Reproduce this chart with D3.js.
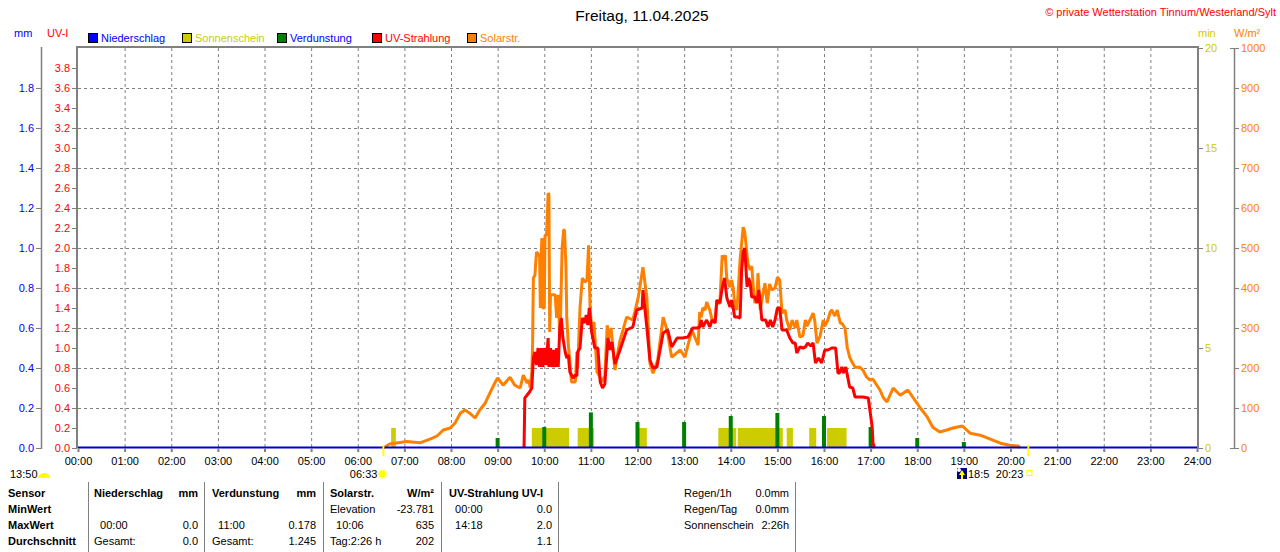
<!DOCTYPE html>
<html>
<head>
<meta charset="utf-8">
<script src="https://cdn.jsdelivr.net/npm/d3@7"></script>
<style>
  body { margin: 0; background: #fff; }
  svg { display: block; font-family: "Liberation Sans", Arial, sans-serif; font-size: 11px; }
  .bold { font-weight: bold; }
</style>
</head>
<body>
<svg id="chart" width="1280" height="552"></svg>
<script>
'use strict';

// ---- data ----
const solarTime = ["06:33","06:41","07:03","07:20","07:33","07:42","07:50","07:59","08:05","08:12","08:18","08:24","08:31","08:37","08:44","08:50","08:57","09:00","09:07","09:16","09:22","09:29","09:33","09:38",
  "09:40","09:42","09:44","09:45","09:46","09:48","09:50","09:52","09:54","09:55","09:56","09:57","09:58","10:00","10:01","10:03","10:05","10:06","10:07","10:08","10:11","10:14","10:16","10:18","10:20","10:21","10:23","10:25","10:26","10:28","10:29","10:31","10:33","10:35","10:38","10:40","10:42","10:43",
  "10:46","10:49","10:52","10:55","10:57","10:59","11:01","11:04","11:06","11:08","11:11","11:14","11:18","11:21","11:23","11:26","11:31","11:37","11:46","11:54","12:01","12:07","12:12","12:16","12:20","12:26","12:33","12:38","12:44","12:55","13:01","13:10","13:18",
  "13:20","13:22","13:24","13:27","13:29","13:33","13:36","13:40","13:42","13:46","13:49","13:51","13:53","13:55","13:56","13:59","14:01","14:03","14:05","14:08","14:12","14:16","14:18","14:20","14:22","14:25","14:27","14:29","14:31","14:34","14:35","14:38","14:40","14:44","14:47","14:50","14:53","14:57",
  "15:00","15:03","15:06","15:10","15:12","15:16","15:19","15:23","15:25","15:29","15:33","15:36","15:38","15:42","15:46","15:48","15:51","15:55","15:59","16:01","16:05","16:08","16:10","16:14","16:17","16:21","16:23","16:27","16:30","16:33","16:36","16:40","16:46","16:50","16:55","16:59",
  "17:03","17:12","17:16","17:21","17:29","17:38","17:48","17:55","18:04","18:13","18:20","18:29","18:38","18:46","18:58","19:08","19:21","19:34","19:47","19:59","20:10","20:12"];
const solarValue = [0,10,16,13,22,30,45,50,62,87,95,87,75,95,112,137,165,175,157,177,157,150,182,162,
  170,150,190,260,425,432,490,485,480,350,482,525,350,350,532,532,637,635,290,382,383,383,325,383,275,332,500,545,545,450,325,258,215,165,165,165,240,200,
  350,425,415,420,507,350,300,315,250,190,180,165,180,307,275,300,195,265,327,320,377,452,377,212,187,220,327,295,227,245,227,295,257,
  340,327,350,345,365,345,320,320,362,362,482,470,482,420,420,402,420,402,362,345,470,552,540,502,462,445,455,402,362,380,437,345,370,412,362,410,395,400,
  427,420,337,345,320,295,320,300,320,277,282,320,305,320,337,320,262,280,320,305,320,340,345,330,345,312,312,300,250,227,215,202,202,195,177,170,
  172,145,127,115,150,132,145,125,100,77,52,40,45,50,55,37,32,22,12,7,5,0];

const uvTime = ["09:34","09:35","09:41","09:44","09:46","09:48","09:50","09:52","09:54","09:56","09:58","10:00","10:02","10:04","10:05","10:06","10:08","10:10","10:12","10:14","10:16","10:18","10:20","10:22","10:24","10:27","10:29","10:31","10:33","10:37","10:40","10:42",
  "10:43","10:46","10:49","10:52","10:54","10:56","10:58","11:01","11:05","11:09","11:12","11:15","11:18","11:22","11:25","11:27","11:31","11:37","11:46","11:54","11:59","12:06","12:07","12:12","12:16","12:20","12:25","12:29","12:33","12:39","12:44","12:51","12:58","13:05","13:11","13:17",
  "13:20","13:22","13:24","13:29","13:33","13:36","13:40","13:42","13:46","13:49","13:52","13:55","13:59","14:01","14:03","14:05","14:09","14:12","14:14","14:16","14:18","14:21","14:23","14:25","14:27","14:31","14:34","14:36","14:38","14:40","14:45","14:48","14:51","14:54","14:57",
  "15:00","15:03","15:06","15:12","15:16","15:20","15:23","15:25","15:29","15:33","15:36","15:39","15:43","15:46","15:49","15:53","15:57","16:01","16:05","16:10","16:15","16:18","16:20","16:23","16:25","16:28","16:33","16:37","16:40","16:50","16:57","17:02","17:03","17:05"];
const uvValue = [0,0.5,0.56,0.6,0.9,0.96,0.83,1.0,0.81,1.0,0.81,1.0,0.83,1.0,1.1,0.81,1.0,0.81,0.98,0.81,1.0,0.81,1.2,1.3,1.1,0.96,0.9,0.93,0.76,0.7,0.73,0.72,
  0.96,1.0,1.3,1.25,1.33,1.23,1.4,1.16,1.0,1.0,0.66,0.6,0.64,1.1,0.98,1.06,0.84,0.97,1.18,1.21,1.38,1.4,1.58,1.21,0.88,0.8,0.81,0.98,1.15,1.18,1.01,1.1,1.1,1.11,1.2,1.2,
  1.21,1.28,1.21,1.28,1.21,1.28,1.25,1.48,1.45,1.6,1.7,1.5,1.41,1.48,1.41,1.31,1.31,1.3,1.78,1.96,2.0,1.61,1.7,1.65,1.51,1.51,1.45,1.58,1.45,1.28,1.28,1.21,1.28,1.21,1.28,
  1.4,1.4,1.18,1.18,1.1,1.05,1.05,0.95,1.01,1.0,1.01,1.05,1.02,1.05,0.85,0.9,0.85,0.98,0.98,1.0,1.0,0.75,0.75,0.81,0.75,0.81,0.61,0.6,0.51,0.51,0.5,0.21,0.05,0];

const evapHour = ["09:00","10:00","11:00","12:00","13:00","14:00","15:00","16:00","17:00","18:00","19:00"];
const evapValue = [0.05,0.105,0.178,0.13,0.13,0.16,0.175,0.16,0.105,0.05,0.03];

const sunStart = ["06:43","09:44","10:43","12:02","13:44","14:09","15:12","15:41","16:04"];
const sunEnd   = ["06:49","10:32","11:04","12:12","14:07","15:07","15:20","15:50","16:29"];
const sunMinutes = [1,1,1,1,1,1,1,1,1];

const hourTicks = d3.range(0, 25);
const uvTicks = d3.range(0, 3.81, 0.2);
const mmTicks = d3.range(0, 1.81, 0.2);
const minTicks = [0, 5, 10, 15, 20];
const wTicks = d3.range(0, 1001, 100);
const gridUv = d3.range(0.4, 3.61, 0.4);

const legendNames = ["Niederschlag", "Sonnenschein", "Verdunstung", "UV-Strahlung", "Solarstr."];
const legendColors = ["#0000ff", "#cccc00", "#008000", "#ff0000", "#ff8000"];
const legendTextColors = ["#0000ff", "#cccc00", "#0000ff", "#ff0000", "#ff8000"];

const sunrise = "06:33", sunset = "20:23", dayLength = "13:50", moonText = "18:5";

const rowLabels = ["Sensor", "MinWert", "MaxWert", "Durchschnitt"];
const tableCols = [
  { x: 94, r: 198, head: ["Niederschlag", "mm"], rows: [["", ""], ["  00:00", "0.0"], ["Gesamt:", "0.0"]] },
  { x: 212, r: 316, head: ["Verdunstung", "mm"], rows: [["", ""], ["  11:00", "0.178"], ["Gesamt:", "1.245"]] },
  { x: 330, r: 434, head: ["Solarstr.", "W/m²"], rows: [["Elevation", "-23.781"], ["  10:06", "635"], ["Tag:2:26 h", "202"]] },
  { x: 449, r: 552, head: ["UV-Strahlung UV-I", ""], rows: [["  00:00", "0.0"], ["  14:18", "2.0"], ["", "1.1"]] }
];
const separators = [88, 204, 323, 441, 558, 795];
const extraLabels = ["Regen/1h", "Regen/Tag", "Sonnenschein"];
const extraValues = ["0.0mm", "0.0mm", "2:26h"];

// ---- helpers ----
const toMin = s => { const p = s.split(":"); return +p[0] * 60 + +p[1]; };
const fmtHour = h => (h < 10 ? "0" : "") + h + ":00";

const svg = d3.select("#chart");
const pLeft = 78, pRight = 1197, pTop = 48, pBottom = 448;

const x = d3.scaleLinear().domain([0, 1440]).range([pLeft, pRight]);
const yUv = d3.scaleLinear().domain([0, 4]).range([pBottom, pTop]);
const yMm = d3.scaleLinear().domain([0, 2]).range([pBottom, pTop]);
const yMin = d3.scaleLinear().domain([0, 20]).range([pBottom, pTop]);
const yW = d3.scaleLinear().domain([0, 1000]).range([pBottom, pTop]);

// grid
const grid = svg.append("g").attr("stroke", "#808080").attr("stroke-dasharray", "3,3").attr("stroke-width", 1);
grid.selectAll(".v").data(hourTicks.slice(1, 24)).enter().append("line")
  .attr("x1", d => x(d * 60) + 0.5).attr("x2", d => x(d * 60) + 0.5)
  .attr("y1", pTop).attr("y2", pBottom);
grid.selectAll(".h").data(gridUv).enter().append("line")
  .attr("x1", pLeft).attr("x2", pRight)
  .attr("y1", d => Math.round(yUv(d)) + 0.5).attr("y2", d => Math.round(yUv(d)) + 0.5);

// sunshine bars
svg.append("g").selectAll("rect").data(sunStart).enter().append("rect")
  .attr("x", (d, i) => x(toMin(d)))
  .attr("width", (d, i) => x(toMin(sunEnd[i])) - x(toMin(d)))
  .attr("y", (d, i) => yMin(sunMinutes[i]))
  .attr("height", (d, i) => pBottom - yMin(sunMinutes[i]))
  .attr("fill", "#cccc00");

// evaporation bars
svg.append("g").selectAll("rect").data(evapHour).enter().append("rect")
  .attr("x", d => x(toMin(d)) - 2)
  .attr("width", 4)
  .attr("y", (d, i) => yMm(evapValue[i]))
  .attr("height", (d, i) => pBottom - yMm(evapValue[i]))
  .attr("fill", "#008000");

// solar line
const solarData = solarTime.map((t, i) => ({ t: toMin(t), v: solarValue[i] }));
svg.append("path").datum(solarData)
  .attr("fill", "none").attr("stroke", "#ff8000").attr("stroke-width", 3).attr("stroke-linejoin", "bevel")
  .attr("d", d3.line().x(d => x(d.t)).y(d => yW(d.v)));

// UV line
const uvData = uvTime.map((t, i) => ({ t: toMin(t), v: uvValue[i] }));
svg.append("path").datum(uvData)
  .attr("fill", "none").attr("stroke", "#ff0000").attr("stroke-width", 3).attr("stroke-linejoin", "bevel")
  .attr("d", d3.line().x(d => x(d.t)).y(d => yUv(d.v)));

// frame
svg.append("path")
  .attr("d", `M${pLeft - 1},${pBottom}V${pTop - 1}H${pRight + 1}V${pBottom + 1}`)
  .attr("fill", "none").attr("stroke", "#808080").attr("stroke-width", 2);

// precipitation line (zero)
svg.append("line").attr("x1", pLeft).attr("x2", pRight)
  .attr("y1", yMm(0) - 0.5).attr("y2", yMm(0) - 0.5)
  .attr("stroke", "#0000cc").attr("stroke-width", 2);

// x axis
const xAxis = svg.append("g").attr("transform", `translate(0,${pBottom})`)
  .call(d3.axisBottom(x).tickValues(hourTicks.map(h => h * 60)).tickFormat(d => fmtHour(d / 60)).tickSize(4).tickSizeOuter(0).tickPadding(5));
xAxis.select(".domain").remove();
xAxis.selectAll("line").attr("stroke", "#808080").attr("stroke-width", 2);
xAxis.selectAll("text").attr("fill", "#000").style("font-size", "11px").style("font-family", "Liberation Sans, Arial");

function styleAxis(g, color) {
  g.select(".domain").remove();
  g.selectAll("line").attr("stroke", "#808080");
  g.selectAll("text").attr("fill", color).style("font-size", "11px").style("font-family", "Liberation Sans, Arial");
}

// UV axis (left of plot)
svg.append("g").attr("transform", `translate(${pLeft - 1},0)`)
  .call(d3.axisLeft(yUv).tickValues(uvTicks).tickFormat(d3.format(".1f")).tickSize(5).tickPadding(2))
  .call(g => styleAxis(g, "#ff0000"));

// mm axis
svg.append("line").attr("x1", 41.5).attr("x2", 41.5).attr("y1", pTop - 1).attr("y2", pBottom + 1).attr("stroke", "#808080").attr("stroke-width", 1.5);
svg.append("g").attr("transform", "translate(41,0)")
  .call(d3.axisLeft(yMm).tickValues(mmTicks).tickFormat(d3.format(".1f")).tickSize(5).tickPadding(2))
  .call(g => styleAxis(g, "#0000ff"));

// min axis (right of plot)
svg.append("g").attr("transform", `translate(${pRight + 1},0)`)
  .call(d3.axisRight(yMin).tickValues(minTicks).tickSize(5).tickPadding(2))
  .call(g => styleAxis(g, "#cccc00"));

// W/m2 axis
const wx = 1234;
svg.append("line").attr("x1", wx + 0.5).attr("x2", wx + 0.5).attr("y1", pTop).attr("y2", pBottom).attr("stroke", "#808080").attr("stroke-width", 1.5);
svg.append("g").attr("transform", `translate(${wx},0)`)
  .call(d3.axisRight(yW).tickValues(wTicks).tickFormat(d3.format("d")).tickSize(5).tickPadding(2))
  .call(g => styleAxis(g, "#ff8000"));
svg.selectAll(".wend").data([0, 1000]).enter().append("line")
  .attr("x1", wx - 4).attr("x2", wx).attr("y1", d => yW(d) + 0.5).attr("y2", d => yW(d) + 0.5)
  .attr("stroke", "#808080");

// titles
svg.append("text").attr("x", 642).attr("y", 21).attr("text-anchor", "middle")
  .style("font-size", "15.5px").attr("fill", "#000").text("Freitag, 11.04.2025");
svg.append("text").attr("x", 1276).attr("y", 16).attr("text-anchor", "end")
  .attr("fill", "#ff0000").style("font-size", "11px")
  .text("© private Wetterstation Tinnum/Westerland/Sylt");

// unit labels
svg.append("text").attr("x", 14).attr("y", 37).attr("fill", "#0000ff").text("mm");
svg.append("text").attr("x", 47).attr("y", 37).attr("fill", "#ff0000").text("UV-I");
svg.append("text").attr("x", 1198).attr("y", 37).attr("fill", "#cccc00").text("min");
svg.append("text").attr("x", 1234).attr("y", 37).attr("fill", "#ff8000").text("W/m²");

// legend
const legendX = [88, 182, 277, 372, 467];
const lg = svg.append("g").selectAll("g").data(legendNames).enter().append("g")
  .attr("transform", (d, i) => `translate(${legendX[i]},33)`);
lg.append("rect").attr("x", 0.5).attr("y", 0.5).attr("width", 9).attr("height", 9)
  .attr("fill", (d, i) => legendColors[i]).attr("stroke", "#000");
lg.append("text").attr("x", 13).attr("y", 9).attr("fill", (d, i) => legendTextColors[i]).text(d => d);

// sunrise / sunset markers
svg.selectAll(".sunmark").data([sunrise, sunset]).enter().append("line")
  .attr("x1", d => x(toMin(d))).attr("x2", d => x(toMin(d)))
  .attr("y1", pBottom - 3).attr("y2", pBottom + 8)
  .attr("stroke", "#ffff00").attr("stroke-width", 2);

// day length + sunrise text
svg.append("text").attr("x", 10).attr("y", 478).text(dayLength);
svg.append("path").attr("d", "M38,478 a6,5 0 0 1 12,0 Z").attr("fill", "#ffff00");
svg.append("text").attr("x", x(toMin(sunrise)) - 6).attr("y", 478).attr("text-anchor", "end").text(sunrise);
svg.append("circle").attr("cx", x(toMin(sunrise)) - 1).attr("cy", 474).attr("r", 5).attr("fill", "#ffffaa");
svg.append("circle").attr("cx", x(toMin(sunrise)) - 1).attr("cy", 474).attr("r", 3.5).attr("fill", "#ffff00");

// moon + sunset text
const mx = 957;
svg.append("rect").attr("x", mx).attr("y", 468).attr("width", 10).attr("height", 11).attr("fill", "#000080");
svg.append("circle").attr("cx", mx + 2).attr("cy", 470).attr("r", 2).attr("fill", "#ffffff");
svg.append("path").attr("d", `M${mx + 5},470 l-3,5 h2 v4 h2 v-4 h2 Z`).attr("fill", "#ffff00");
svg.append("text").attr("x", mx + 11).attr("y", 478).text(moonText);
svg.append("text").attr("x", x(toMin(sunset)) - 5).attr("y", 478).attr("text-anchor", "end").text(sunset);
svg.append("rect").attr("x", x(toMin(sunset)) - 1.5).attr("y", 470.5).attr("width", 5).attr("height", 5)
  .attr("fill", "none").attr("stroke", "#ffff00");

// table
const rowY = [497, 513, 529, 545];
svg.selectAll(".sep").data(separators).enter().append("line")
  .attr("x1", d => d + 0.5).attr("x2", d => d + 0.5).attr("y1", 482).attr("y2", 552)
  .attr("stroke", "#808080");
svg.selectAll(".rowlab").data(rowLabels).enter().append("text")
  .attr("class", "bold").attr("x", 8).attr("y", (d, i) => rowY[i]).text(d => d);
tableCols.forEach(c => {
  svg.append("text").attr("class", "bold").attr("x", c.x).attr("y", rowY[0]).text(c.head[0]);
  svg.append("text").attr("class", "bold").attr("x", c.r).attr("y", rowY[0]).attr("text-anchor", "end").text(c.head[1]);
  c.rows.forEach((r, i) => {
    svg.append("text").attr("x", c.x).attr("y", rowY[i + 1]).attr("xml:space", "preserve").text(r[0]);
    svg.append("text").attr("x", c.r).attr("y", rowY[i + 1]).attr("text-anchor", "end").text(r[1]);
  });
});
extraLabels.forEach((l, i) => {
  svg.append("text").attr("x", 684).attr("y", rowY[i]).text(l);
  svg.append("text").attr("x", 789).attr("y", rowY[i]).attr("text-anchor", "end").text(extraValues[i]);
});
</script>
</body>
</html>
